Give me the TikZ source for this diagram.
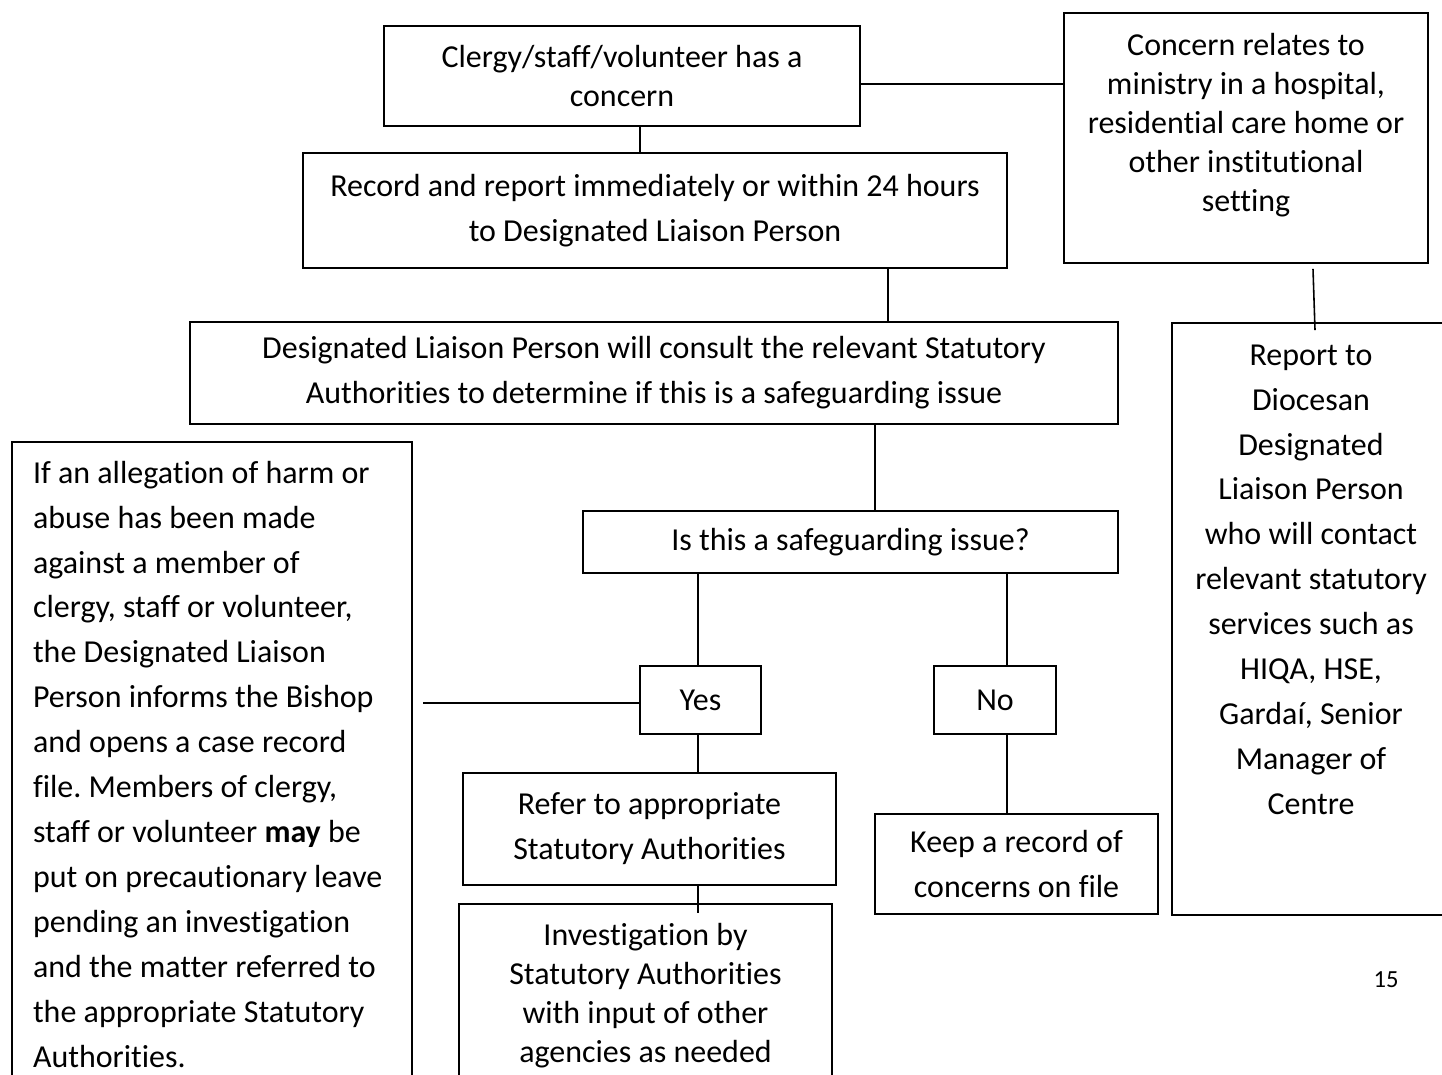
\documentclass[tikz,border=0pt]{standalone}
\usepackage{fontspec}
\setmainfont[Ligatures=NoCommon]{Carlito}
\frenchspacing

\begin{document}
\begin{tikzpicture}[x=0.02cm, y=-0.02cm,
box/.style={draw, line width=1.1pt, inner sep=0pt, align=center,
font=\fontsize{18.2}{22.2}\selectfont},
wide/.style={font=\fontsize{18.2}{25.6}\selectfont}]

\useasboundingbox (0,0) rectangle (1442,1074);

\path
(622,76) node[box, minimum width=9.52cm, minimum height=2cm] (clergy)
{Clergy/staff/volunteer has a\\concern}
(655,210.5) node[box, wide, minimum width=14.08cm, minimum height=2.3cm] (record)
{Record and report immediately or within 24 hours\\to Designated Liaison Person}
(654,373) node[box, wide, minimum width=18.56cm, minimum height=2.04cm] (consult)
{Designated Liaison Person will consult the relevant Statutory\\Authorities
to determine if this is a safeguarding issue}
(1246,138) node[box] (concern)
{\parbox[c][5cm][t]{7.28cm}{\centering\vspace*{0.31cm}\strut Concern relates to\\
ministry in a hospital,\\residential care home or\\other institutional\\setting}}
(1311,619) node[box, wide] (report)
{\parbox[c][11.84cm][t]{5.56cm}{\centering\vspace*{0.21cm}\strut Report to\\
Diocesan\\Designated\\Liaison Person\\who will contact\\relevant statutory\\
services such as\\HIQA, HSE,\\Gardaí, Senior\\Manager of\\Centre}}
(212,766) node[box, wide, inner xsep=0.42cm] (allegation)
{\parbox[c][12.96cm][t]{7.16cm}{\raggedright\vspace*{0.19cm}\strut If an
allegation of harm or\\abuse has been made\\against a member of\\clergy, staff
or volunteer,\\the Designated Liaison\\Person informs the Bishop\\and opens a case
record\\file. Members of clergy,\\staff or volunteer \textbf{may} be\\put on
precautionary leave\\pending an investigation\\and the matter referred to\\the
appropriate Statutory\\Authorities.}}
(850.5,542) node[box, minimum width=10.7cm, minimum height=1.24cm] (issue)
{Is this a safeguarding issue?}
(700.5,700) node[box, minimum width=2.42cm, minimum height=1.36cm] (yes) {Yes}
(995,700) node[box, minimum width=2.44cm, minimum height=1.36cm] (no) {No}
(649.5,829) node[box, wide, minimum width=7.46cm, minimum height=2.24cm] (refer)
{Refer to appropriate\\Statutory Authorities}
(1016.5,864) node[box, wide, minimum width=5.66cm, minimum height=2cm] (keep)
{Keep a record of\\concerns on file}
(645.5,997) node[box] (investigation)
{\parbox[c][3.72cm][t]{7.46cm}{\centering\vspace*{0.29cm}\strut Investigation
by\\Statutory Authorities\\with input of other\\agencies as needed}}
(1386,980) node[font=\fontsize{14}{16}\selectfont] (page) {15}
;

\begin{scope}[line width=0.9pt]
\draw ([xshift=0.36cm]clergy.south) coordinate (c1) -- (c1 |- record.north);
\draw ([yshift=-0.16cm]clergy.east) coordinate (c2) -- (c2 -| concern.west);
\draw ([xshift=4.66cm]record.south) coordinate (c3) -- (c3 |- consult.north);
\draw ([xshift=4.42cm]consult.south) coordinate (c4) -- (c4 |- issue.north);
\draw ([xshift=-0.05cm]yes.north) coordinate (c10) -- (c10 |- issue.south);
\draw ([xshift=0.24cm]no.north) coordinate (c5) -- (c5 |- issue.south);
\draw ([xshift=0.24cm]no.south) coordinate (c6) -- (c6 |- keep.north);
\draw ([yshift=-0.06cm]yes.west) coordinate (c7) -- ([xshift=0.2cm]c7 -| allegation.east);
\draw ([xshift=-0.05cm]yes.south) coordinate (c11) -- (c11 |- refer.north);
\path (c11 |- refer.south) coordinate (c8) (c8 |- investigation.north) coordinate (c9);
\draw (c8) -- ([yshift=-0.2cm]c9);
\draw ([xshift=1.34cm, yshift=-0.1cm]concern.south) -- ([xshift=0.08cm, yshift=-0.16cm]report.north);
\end{scope}

\end{tikzpicture}
\end{document}
